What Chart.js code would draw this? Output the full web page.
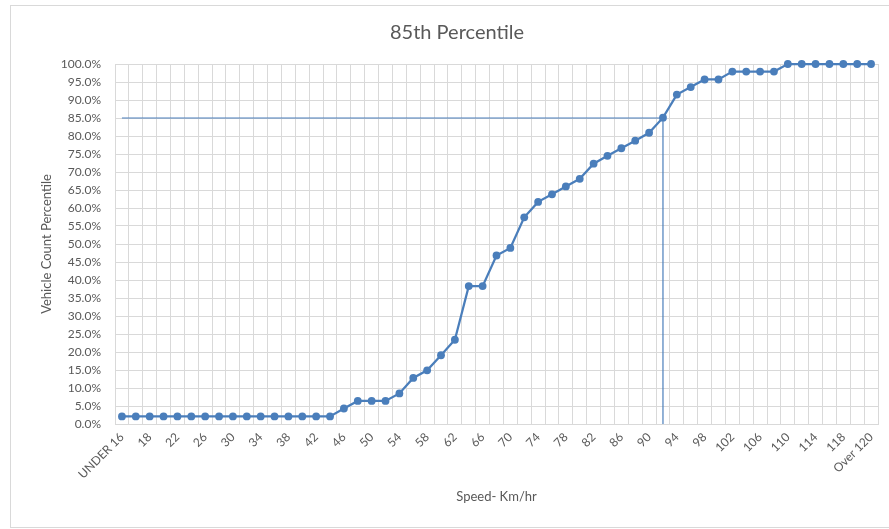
<!DOCTYPE html>
<html>
<head>
<meta charset="utf-8">
<title>85th Percentile</title>
<script src="https://cdn.jsdelivr.net/npm/chart.js@4/dist/chart.umd.min.js"></script>
<style>
  html, body { margin: 0; padding: 0; background: #fff; }
  #wrap { width: 889px; height: 529px; }
</style>
</head>
<body>
<div id="wrap"><canvas id="chart" width="889" height="529"></canvas></div>
<script>
// speed bins (km/h)
const speeds = ['UNDER 16', '16', '18', '20', '22', '24', '26', '28', '30', '32', '34', '36', '38', '40',
  '42', '44', '46', '48', '50', '52', '54', '56', '58', '60', '62', '64', '66', '68', '70', '72', '74',
  '76', '78', '80', '82', '84', '86', '88', '90', '92', '94', '96', '98', '100', '102', '104', '106',
  '108', '110', '112', '114', '116', '118', '120', 'Over 120'];

// cumulative vehicle count percentile per bin
const cumulative = [2.1, 2.1, 2.1, 2.1, 2.1, 2.1, 2.1, 2.1, 2.1, 2.1, 2.1, 2.1, 2.1, 2.1, 2.1, 2.1,
  4.3, 6.4, 6.4, 6.4, 8.5, 12.8, 14.9, 19.1, 23.4, 38.3, 38.3, 46.8, 48.9, 57.4, 61.7, 63.8, 66.0,
  68.1, 72.3, 74.5, 76.6, 78.7, 80.9, 85.1, 91.5, 93.6, 95.7, 95.7, 97.9, 97.9, 97.9, 97.9,
  100, 100, 100, 100, 100, 100, 100];

// 85th percentile marker
const pctLevel = 85;
const pctSpeed = '92';

const yTicks = { min: 0, max: 100, step: 5 };

const blue = '#4a7ebb';
const textGrey = '#595959';
const gridGrey = '#d9d9d9';
const font = 'Lato, "Liberation Sans", sans-serif';

// white background, outer border and the chart title
const frame = {
  id: 'frame',
  beforeDraw(chart) {
    const c = chart.ctx;
    c.save();
    c.fillStyle = '#fff';
    c.fillRect(0, 0, chart.width, chart.height);
    c.strokeStyle = gridGrey;
    c.lineWidth = 1;
    c.strokeRect(10.5, 5.5, chart.width, 522);
    c.fillStyle = textGrey;
    c.font = '20px ' + font;
    c.textAlign = 'center';
    c.textBaseline = 'middle';
    c.fillText('85th Percentile', 457, 33);
    c.restore();
  }
};

new Chart(document.getElementById('chart'), {
  type: 'line',
  data: {
    labels: speeds,
    datasets: [{
      data: cumulative,
      borderColor: blue,
      backgroundColor: blue,
      borderWidth: 2.25,
      pointRadius: 3.9,
      pointBorderWidth: 0,
      tension: 0,
      clip: false
    }, {
      data: [
        { x: speeds[0], y: pctLevel },
        { x: pctSpeed, y: pctLevel },
        { x: pctSpeed, y: 0 }
      ],
      borderColor: blue,
      borderWidth: 1.2,
      pointRadius: 0,
      tension: 0
    }]
  },
  options: {
    responsive: false,
    animation: false,
    layout: { padding: { top: 64, left: 0, right: 11, bottom: 0 } },
    plugins: {
      legend: { display: false },
      tooltip: { enabled: false },
      title: { display: false }
    },
    scales: {
      x: {
        type: 'category',
        offset: true,
        grid: { color: gridGrey, offset: true, drawTicks: false },
        border: { color: gridGrey },
        ticks: {
          autoSkip: false,
          maxRotation: 45,
          minRotation: 45,
          padding: 6,
          color: textGrey,
          font: { family: font, size: 12 },
          callback(v, i) { return i % 2 === 0 ? this.getLabelForValue(v) : ''; }
        },
        title: {
          display: true,
          text: 'Speed- Km/hr',
          color: textGrey,
          font: { family: font, size: 13 },
          padding: { bottom: 24 }
        },
        afterFit(s) { s.height = 105; }
      },
      y: {
        min: yTicks.min,
        max: yTicks.max,
        grid: { color: gridGrey, drawTicks: false },
        border: { color: gridGrey },
        ticks: {
          stepSize: yTicks.step,
          padding: 14,
          color: textGrey,
          font: { family: font, size: 12 },
          callback: v => v.toFixed(1) + '%'
        },
        title: {
          display: true,
          text: 'Vehicle Count Percentile',
          color: textGrey,
          font: { family: font, size: 13 },
          padding: { top: 39 }
        },
        afterFit(s) { s.width = 115; }
      }
    }
  },
  plugins: [frame]
});
</script>
</body>
</html>
